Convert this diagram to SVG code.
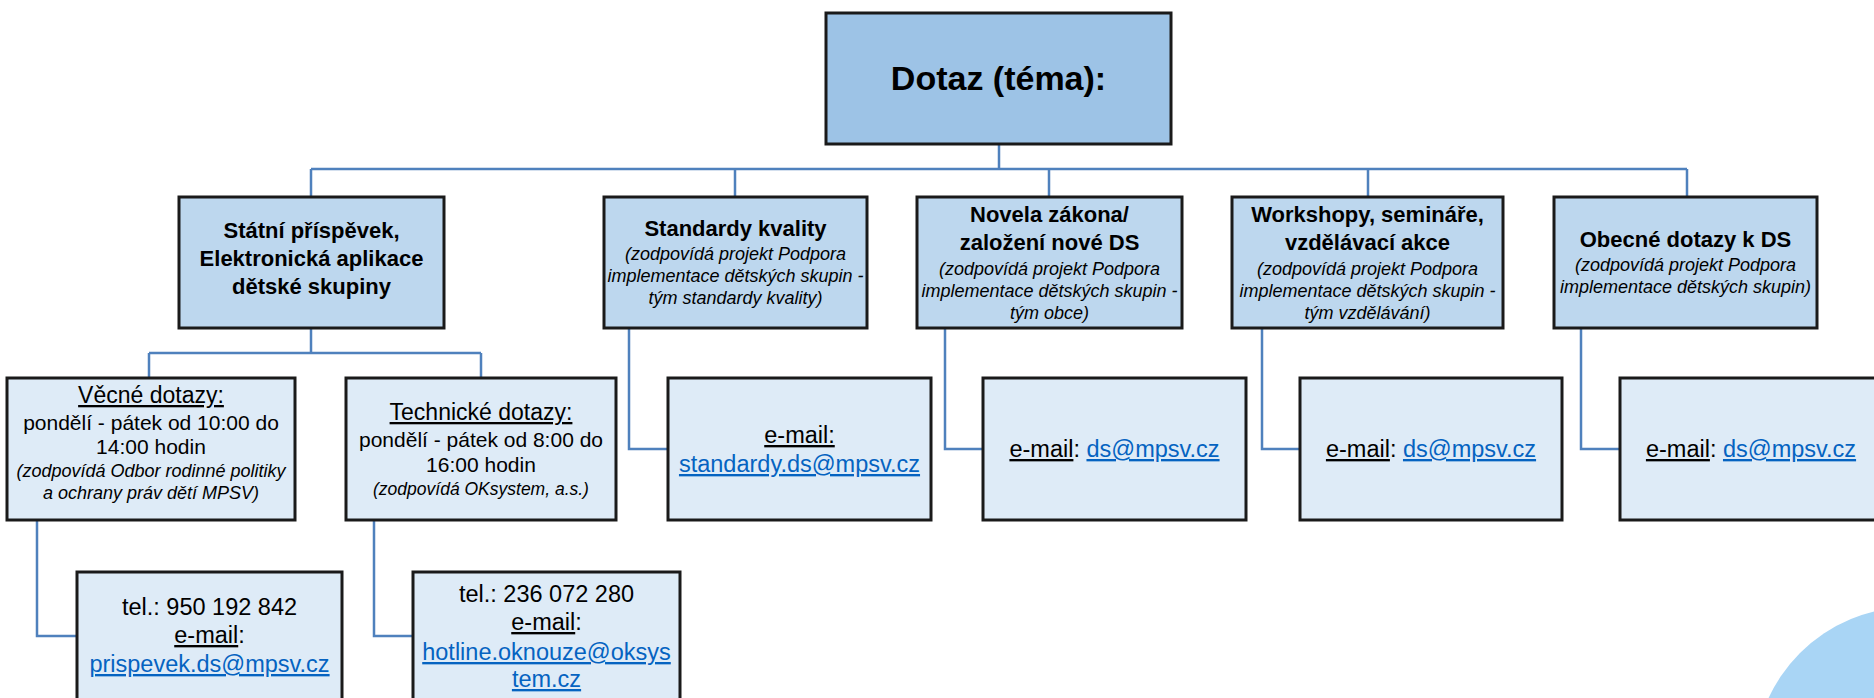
<svg xmlns="http://www.w3.org/2000/svg" width="1874" height="698" viewBox="0 0 1874 698">
<style>
text { font-family: "Liberation Sans", Arial, sans-serif; fill: #000; text-anchor: middle; }
.box { stroke: #1a1a1a; stroke-width: 3; }
.top { fill: #9dc3e6; }
.l2 { fill: #bdd7ee; }
.l3 { fill: #deebf7; }
.conn { fill: none; stroke: #4f81bd; stroke-width: 2.5; }
.title { font-size: 34px; font-weight: bold; }
.h2 { font-size: 22px; font-weight: bold; }
.it { font-size: 18px; font-style: italic; }
.h3 { font-size: 23px; }
.txt { font-size: 21px; }
.big { font-size: 23.5px; }
.u { text-decoration: underline; }
.link { fill: #0563c1; text-decoration: underline; }
</style>
<circle cx="1911" cy="764" r="157" fill="#a9d5f5"/>
<g id="connectors">
<path class="conn" d="M999,144 V169 M311,169 H1687 M311,169 V197 M735,169 V197 M1049,169 V197 M1368,169 V197 M1687,169 V197"/>
<path class="conn" d="M311,328 V353 M149,353 H481 M149,353 V378 M481,353 V378"/>
<path class="conn" d="M629,328 V449 H668"/>
<path class="conn" d="M945,328 V449 H983"/>
<path class="conn" d="M1262,328 V449 H1300"/>
<path class="conn" d="M1581,328 V449 H1620"/>
<path class="conn" d="M37,520 V636 H77"/>
<path class="conn" d="M374,520 V636 H413"/>
</g>
<g id="n-dotaz">
<rect class="box top" x="826" y="13" width="345" height="131"/>
<text class="title" x="998.5" y="90">Dotaz (téma):</text>
</g>
<g id="n-statni">
<rect class="box l2" x="179" y="197" width="265" height="131"/>
<text class="h2" x="311.5" y="238">Státní příspěvek,</text>
<text class="h2" x="311.5" y="266">Elektronická aplikace</text>
<text class="h2" x="311.5" y="294">dětské skupiny</text>
</g>
<g id="n-standardy">
<rect class="box l2" x="604" y="197" width="263" height="131"/>
<text class="h2" x="735.5" y="236">Standardy kvality</text>
<text class="it" x="735.5" y="260">(zodpovídá projekt Podpora</text>
<text class="it" x="735.5" y="282">implementace dětských skupin -</text>
<text class="it" x="735.5" y="304">tým standardy kvality)</text>
</g>
<g id="n-novela">
<rect class="box l2" x="917" y="197" width="265" height="131"/>
<text class="h2" x="1049.5" y="222">Novela zákona/</text>
<text class="h2" x="1049.5" y="250">založení nové DS</text>
<text class="it" x="1049.5" y="275">(zodpovídá projekt Podpora</text>
<text class="it" x="1049.5" y="297">implementace dětských skupin -</text>
<text class="it" x="1049.5" y="319">tým obce)</text>
</g>
<g id="n-workshopy">
<rect class="box l2" x="1232" y="197" width="271" height="131"/>
<text class="h2" x="1367.5" y="222">Workshopy, semináře,</text>
<text class="h2" x="1367.5" y="250">vzdělávací akce</text>
<text class="it" x="1367.5" y="275">(zodpovídá projekt Podpora</text>
<text class="it" x="1367.5" y="297">implementace dětských skupin -</text>
<text class="it" x="1367.5" y="319">tým vzdělávání)</text>
</g>
<g id="n-obecne">
<rect class="box l2" x="1554" y="197" width="263" height="131"/>
<text class="h2" x="1685.5" y="247">Obecné dotazy k DS</text>
<text class="it" x="1685.5" y="271">(zodpovídá projekt Podpora</text>
<text class="it" x="1685.5" y="293">implementace dětských skupin)</text>
</g>
<g id="n-vecne">
<rect class="box l3" x="7" y="378" width="288" height="142"/>
<text class="h3 u" x="151" y="403">Věcné dotazy:</text>
<text class="txt" x="151" y="430">pondělí - pátek od 10:00 do</text>
<text class="txt" x="151" y="454">14:00 hodin</text>
<text class="it" x="151" y="477">(zodpovídá Odbor rodinné politiky</text>
<text class="it" x="151" y="499">a ochrany práv dětí MPSV)</text>
</g>
<g id="n-technicke">
<rect class="box l3" x="346" y="378" width="270" height="142"/>
<text class="h3 u" x="481" y="420">Technické dotazy:</text>
<text class="txt" x="481" y="447">pondělí - pátek od 8:00 do</text>
<text class="txt" x="481" y="472">16:00 hodin</text>
<text class="it" x="481" y="495" style="font-size:17.5px">(zodpovídá OKsystem, a.s.)</text>
</g>
<g id="n-standardy-mail">
<rect class="box l3" x="668" y="378" width="263" height="142"/>
<text class="big u" x="799.5" y="443">e-mail:</text>
<text class="big link" x="799.5" y="472">standardy.ds@mpsv.cz</text>
</g>
<g id="n-novela-mail">
<rect class="box l3" x="983" y="378" width="263" height="142"/>
<text class="big" x="1114.5" y="457"><tspan class="u">e-mail</tspan>: <tspan class="link">ds@mpsv.cz</tspan></text>
</g>
<g id="n-workshopy-mail">
<rect class="box l3" x="1300" y="378" width="262" height="142"/>
<text class="big" x="1431" y="457"><tspan class="u">e-mail</tspan>: <tspan class="link">ds@mpsv.cz</tspan></text>
</g>
<g id="n-obecne-mail">
<rect class="box l3" x="1620" y="378" width="280" height="142"/>
<text class="big" x="1751" y="457"><tspan class="u">e-mail</tspan>: <tspan class="link">ds@mpsv.cz</tspan></text>
</g>
<g id="n-prispevek-kontakt">
<rect class="box l3" x="77" y="572" width="265" height="150"/>
<text class="big" x="209.5" y="615">tel.: 950 192 842</text>
<text class="big" x="209.5" y="643"><tspan class="u">e-mail</tspan>:</text>
<text class="big link" x="209.5" y="672">prispevek.ds@mpsv.cz</text>
</g>
<g id="n-hotline-kontakt">
<rect class="box l3" x="413" y="572" width="267" height="150"/>
<text class="big" x="546.5" y="602">tel.: 236 072 280</text>
<text class="big" x="546.5" y="630"><tspan class="u">e-mail</tspan>:</text>
<text class="big link" x="546.5" y="660">hotline.oknouze@oksys</text>
<text class="big link" x="546.5" y="687">tem.cz</text>
</g>
</svg>
